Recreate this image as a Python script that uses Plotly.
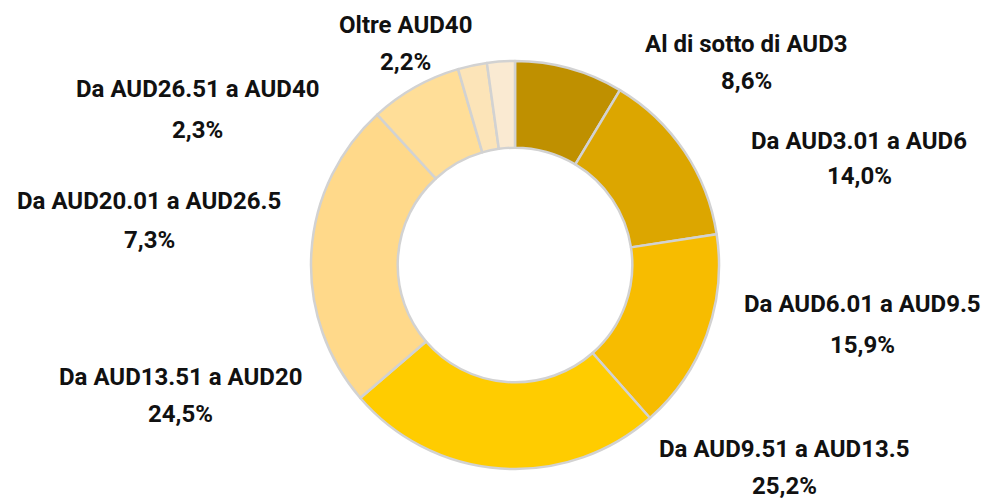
import plotly.graph_objects as go

categories = [
    "Al di sotto di AUD3",
    "Da AUD3.01 a AUD6",
    "Da AUD6.01 a AUD9.5",
    "Da AUD9.51 a AUD13.5",
    "Da AUD13.51 a AUD20",
    "Da AUD20.01 a AUD26.5",
    "Da AUD26.51 a AUD40",
    "Oltre AUD40",
]
values = [8.6, 14.0, 15.9, 25.2, 24.5, 7.3, 2.3, 2.2]
colors = ["#BF9000", "#DCA600", "#F7BC00", "#FFCC00", "#FFD98A", "#FFDE98", "#FCE4B8", "#FAEAD2"]

# label placement in pixels: (x centre, y of name line, y of percent line) -- layout only
label_pos = [
    (746, 44, 81), (859, 141, 176), (862, 304, 345), (784, 449, 486),
    (180, 377, 414), (149, 201, 240), (197, 89, 130), (405, 25, 62),
]

W, H = 987, 500
cx, cy, r = 515, 265, 204

fig = go.Figure()
fig.add_trace(go.Pie(
    labels=categories,
    values=values,
    sort=False,
    direction="clockwise",
    rotation=0,
    hole=0.575,
    marker=dict(colors=colors, line=dict(color="#D2D2D2", width=2.5)),
    textinfo="none",
    hoverinfo="label+percent",
    showlegend=False,
    domain=dict(x=[(cx - r) / W, (cx + r) / W], y=[(H - cy - r) / H, (H - cy + r) / H]),
))

font = dict(family="Roboto, Liberation Sans, sans-serif", size=24, color="#111111", weight=700)
for cat, v, (px, py1, py2) in zip(categories, values, label_pos):
    pct = f"{v:.1f}".replace(".", ",") + "%"
    fig.add_annotation(
        x=px / W, y=1 - py1 / H, xref="paper", yref="paper",
        text=cat, showarrow=False, xanchor="center", yanchor="middle", font=font,
    )
    fig.add_annotation(
        x=px / W, y=1 - py2 / H, xref="paper", yref="paper",
        text=pct, showarrow=False, xanchor="center", yanchor="middle", font=font,
    )

fig.update_layout(
    width=W, height=H,
    margin=dict(l=0, r=0, t=0, b=0),
    paper_bgcolor="white",
    plot_bgcolor="white",
)

fig.write_html("out.html", config={"displayModeBar": False},
               post_script="document.body.style.margin='0';")
